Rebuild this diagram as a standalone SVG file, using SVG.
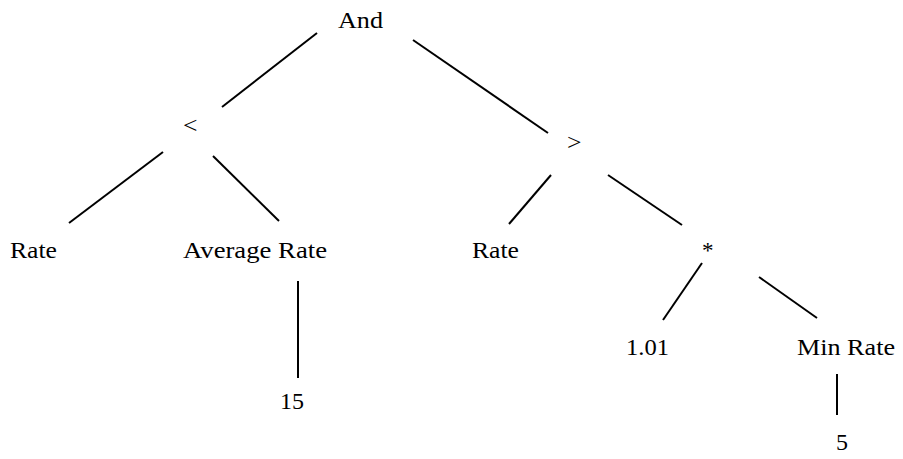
<svg xmlns="http://www.w3.org/2000/svg" width="903" height="459" viewBox="0 0 903 459">
<style>
text{font-family:"Liberation Serif","Times New Roman",serif;font-size:23px;fill:#000}
.e line{stroke:#000;stroke-width:2}
</style>
<rect width="903" height="459" fill="#fff"/>
<g class="e" id="connectors">
<line x1="317" y1="33" x2="222" y2="107"/>
<line x1="413" y1="40" x2="548" y2="133"/>
<line x1="163" y1="152" x2="69" y2="223"/>
<line x1="213" y1="156" x2="279" y2="221"/>
<line x1="298" y1="281" x2="298" y2="378"/>
<line x1="551" y1="175" x2="509" y2="224"/>
<line x1="608" y1="175" x2="682" y2="225"/>
<line x1="702" y1="263" x2="663" y2="320"/>
<line x1="759" y1="277" x2="817" y2="318"/>
<line x1="837" y1="374" x2="837" y2="415"/>
</g>
<g id="and"><text x="338" y="28" textLength="45" lengthAdjust="spacingAndGlyphs">And</text></g>
<g id="lt"><text x="183" y="133" textLength="14.5" lengthAdjust="spacingAndGlyphs">&lt;</text></g>
<g id="gt"><text x="567" y="150" textLength="14.5" lengthAdjust="spacingAndGlyphs">&gt;</text></g>
<g id="rate1"><text x="10" y="258" textLength="47" lengthAdjust="spacingAndGlyphs">Rate</text></g>
<g id="avgrate"><text x="183" y="258" textLength="144" lengthAdjust="spacingAndGlyphs">Average Rate</text></g>
<g id="rate2"><text x="472" y="258" textLength="47" lengthAdjust="spacingAndGlyphs">Rate</text></g>
<g id="mul"><text x="702" y="258" textLength="11.5" lengthAdjust="spacingAndGlyphs">*</text></g>
<g id="n15"><text x="280" y="409" textLength="24" lengthAdjust="spacingAndGlyphs">15</text></g>
<g id="n101"><text x="626" y="355" textLength="43" lengthAdjust="spacingAndGlyphs">1.01</text></g>
<g id="minrate"><text x="797" y="355" textLength="98" lengthAdjust="spacingAndGlyphs">Min Rate</text></g>
<g id="n5"><text x="836" y="450" textLength="12" lengthAdjust="spacingAndGlyphs">5</text></g>
</svg>
